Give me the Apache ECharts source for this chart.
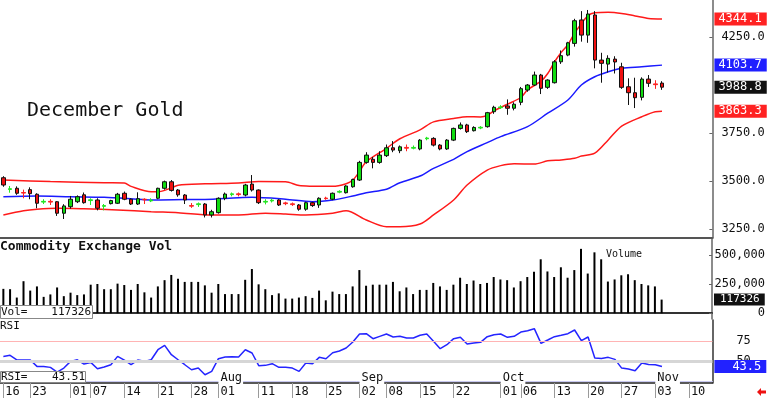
<!DOCTYPE html>
<html>
<head>
<meta charset="utf-8">
<script src="https://cdn.jsdelivr.net/npm/echarts@6/dist/echarts.min.js"></script>
<style>
  html, body { margin: 0; padding: 0; background: #fff; }
  #main { width: 768px; height: 399px; }
</style>
</head>
<body>
<div id="main"></div>
<script>
// trading days, Jun 16 .. Nov 13 (the last ones are still empty)
const dates = [
  '06-16','06-17','06-18','06-20','06-23','06-24','06-25','06-26','06-27','06-30',
  '07-01','07-02','07-03','07-07','07-08','07-09','07-10','07-11','07-14','07-15','07-16','07-17','07-18',
  '07-21','07-22','07-23','07-24','07-25','07-28','07-29','07-30','07-31',
  '08-01','08-04','08-05','08-06','08-07','08-08','08-11','08-12','08-13','08-14','08-15','08-18','08-19',
  '08-20','08-21','08-22','08-25','08-26','08-27','08-28','08-29',
  '09-02','09-03','09-04','09-05','09-08','09-09','09-10','09-11','09-12','09-15','09-16','09-17','09-18',
  '09-19','09-22','09-23','09-24','09-25','09-26','09-29','09-30',
  '10-01','10-02','10-03','10-06','10-07','10-08','10-09','10-10','10-13','10-14','10-15','10-16','10-17',
  '10-20','10-21','10-22','10-23','10-24','10-27','10-28','10-29','10-30','10-31',
  '11-03','11-04','11-05','11-06','11-07','11-10','11-11','11-12','11-13'
];
const dayTicks = ['06-16','06-23','07-01','07-07','07-14','07-21','07-28','08-01','08-11','08-18','08-25',
  '09-02','09-08','09-15','09-22','10-01','10-06','10-13','10-20','10-27','11-03','11-10'];
const monthNames = { '08-01': 'Aug', '09-02': 'Sep', '10-01': 'Oct', '11-03': 'Nov' };

const opens = [
  3517, 3456, 3462, 3440, 3455, 3431, 3390, 3394, 3392, 3332,
  3366, 3392, 3428, 3398, 3401, 3368, 3382, 3384, 3436, 3405,
  3380, 3405, 3396, 3410, 3462, 3496, 3453, 3427, 3372, 3377,
  3380, 3323, 3335, 3410, 3429, 3433, 3427, 3484, 3453, 3390,
  3396, 3401, 3386, 3381, 3375, 3353, 3387, 3375, 3411, 3405,
  3442, 3439, 3470, 3505, 3597, 3613, 3597, 3632, 3673, 3658,
  3675, 3671, 3667, 3720, 3722, 3687, 3667, 3713, 3774, 3792,
  3762, 3776, 3783, 3861, 3882, 3891, 3879, 3910, 3974, 4000,
  4052, 3988, 4012, 4121, 4156, 4217, 4339, 4260, 4365, 4130,
  4109, 4135, 4095, 3991, 3960, 3936, 4031, 4006, 4010
];
const closes = [
  3479, 3460, 3436, 3437, 3434, 3384, 3394, 3390, 3332, 3370,
  3405, 3418, 3387, 3402, 3358, 3372, 3398, 3431, 3405, 3380,
  3408, 3402, 3400, 3462, 3496, 3451, 3428, 3401, 3369, 3381,
  3323, 3340, 3410, 3432, 3433, 3429, 3479, 3453, 3387, 3394,
  3400, 3375, 3382, 3377, 3353, 3387, 3372, 3410, 3408, 3436,
  3446, 3474, 3508, 3597, 3635, 3597, 3635, 3673, 3661, 3678,
  3671, 3675, 3713, 3724, 3687, 3667, 3713, 3774, 3792, 3757,
  3779, 3780, 3856, 3884, 3886, 3879, 3900, 3981, 4000, 4052,
  3983, 4026, 4121, 4153, 4220, 4335, 4260, 4370, 4130, 4113,
  4139, 4120, 3988, 3960, 3934, 4031, 4009, 4002, 3988.8
];
const lows = [
  3470, 3439, 3428, 3410, 3405, 3358, 3380, 3375, 3318, 3302,
  3356, 3385, 3382, 3375, 3347, 3347, 3378, 3380, 3400, 3375,
  3375, 3380, 3390, 3405, 3455, 3445, 3418, 3380, 3360, 3365,
  3310, 3310, 3330, 3400, 3420, 3420, 3420, 3445, 3380, 3378,
  3388, 3370, 3374, 3370, 3345, 3345, 3365, 3360, 3402, 3400,
  3436, 3435, 3465, 3500, 3590, 3566, 3590, 3625, 3650, 3645,
  3655, 3665, 3660, 3712, 3680, 3660, 3662, 3708, 3768, 3750,
  3758, 3770, 3778, 3850, 3875, 3845, 3868, 3895, 3965, 3995,
  3953, 3980, 4008, 4110, 4150, 4200, 4226, 4220, 4087, 4012,
  4065, 4060, 3980, 3896, 3880, 3920, 3990, 3980, 3975
];
const highs = [
  3525, 3474, 3472, 3455, 3467, 3436, 3405, 3405, 3395, 3379,
  3422, 3425, 3440, 3410, 3410, 3380, 3402, 3438, 3445, 3410,
  3441, 3410, 3410, 3465, 3502, 3505, 3458, 3432, 3385, 3388,
  3385, 3350, 3415, 3440, 3440, 3440, 3485, 3531, 3456, 3405,
  3408, 3405, 3392, 3388, 3380, 3392, 3392, 3415, 3418, 3440,
  3452, 3478, 3512, 3605, 3650, 3625, 3655, 3690, 3708, 3685,
  3690, 3685, 3718, 3730, 3728, 3692, 3718, 3778, 3805, 3798,
  3785, 3786, 3860, 3892, 3895, 3925, 3910, 3990, 4005, 4070,
  4058, 4030, 4130, 4180, 4225, 4345, 4385, 4391, 4385, 4168,
  4155, 4150, 4116, 4035, 4038, 4040, 4052, 4025, 4020
];

// bollinger bands: [day index, price]
const upperBand = [
  [0, 3505], [7, 3497], [15, 3491], [18, 3490], [19, 3472], [22, 3444], [23, 3444], [25, 3464],
  [26, 3478], [30, 3485], [35, 3490], [38, 3497], [42, 3496], [44, 3476], [46, 3473], [49, 3472],
  [51, 3486], [52, 3505], [53, 3550], [54, 3600], [57, 3670], [59, 3720], [62, 3766], [64, 3808],
  [67, 3826], [69, 3835], [71, 3834], [72, 3842], [73, 3865], [75, 3900], [77, 3935], [78, 3975],
  [80, 4020], [81, 4060], [82, 4120], [83, 4170], [84, 4210], [85, 4270], [86, 4320], [87, 4362],
  [88, 4376], [90, 4379], [92, 4373], [94, 4360], [96, 4347], [98, 4344.1]
];
const midBand = [
  [0, 3418], [5, 3422], [10, 3418], [15, 3415], [20, 3405], [22, 3401], [27, 3403], [30, 3404],
  [35, 3413], [37, 3415], [42, 3405], [46, 3392], [49, 3401], [52, 3422], [54, 3439], [57, 3457],
  [59, 3491], [62, 3526], [64, 3566], [67, 3613], [69, 3653], [72, 3700], [74, 3731], [78, 3783],
  [81, 3853], [84, 3922], [86, 4000], [88, 4043], [90, 4069], [92, 4087], [95, 4095], [98, 4103.7]
];
const lowerBand = [
  [0, 3323], [3, 3345], [5, 3353], [8, 3358], [12, 3355], [17, 3349], [22, 3340], [26, 3335],
  [31, 3323], [35, 3323], [39, 3332], [42, 3328], [45, 3323], [49, 3332], [51, 3345], [54, 3297],
  [57, 3262], [59, 3262], [62, 3276], [64, 3323], [67, 3401], [69, 3479], [72, 3557], [74, 3580],
  [76, 3590], [79, 3588], [81, 3605], [83, 3610], [85, 3618], [86, 3630], [88, 3645], [90, 3714],
  [92, 3786], [95, 3835], [97, 3861], [98, 3863.3]
];

const volumes = [
  210000, 207000, 135000, 276000, 195000, 231000, 141000, 162000, 222000, 147000,
  177000, 156000, 162000, 246000, 252000, 207000, 207000, 255000, 243000, 201000,
  252000, 180000, 135000, 231000, 285000, 330000, 297000, 270000, 270000, 270000,
  240000, 177000, 252000, 165000, 165000, 165000, 288000, 381000, 249000, 207000,
  156000, 171000, 126000, 126000, 135000, 147000, 132000, 195000, 111000, 186000,
  165000, 165000, 231000, 372000, 237000, 246000, 246000, 246000, 270000, 189000,
  222000, 165000, 201000, 201000, 261000, 231000, 201000, 246000, 306000, 252000,
  282000, 252000, 261000, 312000, 291000, 285000, 222000, 276000, 312000, 357000,
  465000, 360000, 312000, 396000, 306000, 372000, 555000, 342000, 525000, 465000,
  273000, 291000, 327000, 336000, 285000, 252000, 240000, 231000, 117326
];
const rsiValues = [
  56.2, 57.5, 52.0, 51.6, 51.6, 43.7, 43.7, 42.5, 36.6, 41.6,
  50.0, 52.0, 46.6, 48.7, 40.8, 42.9, 45.8, 56.2, 51.6, 45.8,
  51.6, 50.0, 52.0, 64.5, 70.0, 58.3, 52.0, 45.8, 39.5, 41.6,
  33.3, 37.5, 53.3, 55.4, 55.8, 55.4, 64.5, 60.4, 44.6, 45.0,
  47.1, 42.5, 42.5, 41.6, 37.5, 47.9, 47.1, 55.0, 53.3, 60.8,
  62.9, 66.6, 74.1, 84.1, 84.5, 78.3, 81.2, 84.1, 80.4, 81.2,
  79.1, 79.1, 82.5, 84.1, 75.0, 65.8, 70.8, 78.3, 80.0, 71.6,
  72.9, 73.7, 80.8, 83.3, 84.1, 80.0, 81.2, 86.6, 88.3, 90.8,
  72.5, 76.6, 80.8, 82.5, 84.5, 89.1, 75.8, 80.4, 54.1, 53.7,
  55.0, 52.5, 41.6, 40.4, 38.3, 47.9, 46.2, 45.8, 43.51
];

const priceTicks = [3250, 3500, 3750, 4250];
const volTicks = [0, 250000, 500000];
const rsiTicks = [50, 75];

const MONO = '"DejaVu Sans Mono", "Liberation Mono", monospace';
const GREEN = '#10dc10';
const RED = '#f01010';
const last = arr => arr[arr.length - 1];
const lastVal = arr => last(arr)[1];

let chart = echarts.init(document.getElementById('main'));

let candles = opens.map((o, i) => {
  const c = closes[i];
  const item = { value: [o, c, lows[i], highs[i]] };
  if (Math.abs(o - c) < 6) {
    const col = c >= o ? '#22e622' : '#ff2222';
    item.itemStyle = { borderColor: col, borderColor0: col };
  }
  return item;
});

// value box on the right edge, like the terminal's last-price tags
function boxLine (value, bg, text, size, padLeft) {
  return {
    yAxis: value,
    lineStyle: { width: 0, color: 'rgba(0,0,0,0)', opacity: 1 },
    label: {
      show: true, position: 'end', distance: 2, opacity: 1,
      formatter: text,
      backgroundColor: bg, color: '#fff',
      fontFamily: MONO, fontSize: size || 12,
      padding: [1, 5, 0, padLeft || 4]
    }
  };
}

const showDay = (i, v) => dayTicks.indexOf(v) >= 0;
const showMonth = (i, v) => monthNames[v] !== undefined;

function baseX (grid, lineColor) {
  return {
    type: 'category', gridIndex: grid, data: dates, boundaryGap: true,
    axisLine: { lineStyle: { color: lineColor, width: 2 } },
    axisTick: { show: false }, axisLabel: { show: false }, splitLine: { show: false }
  };
}

let options = {
  animation: false,
  backgroundColor: '#fff',
  grid: [
    { left: -4.2, right: 55.6, top: 0, height: 238 },
    { left: -4.2, right: 55.6, top: 239, height: 80 },
    { left: -4.2, right: 55.6, top: 320, height: 63 }
  ],
  xAxis: [
    baseX(0, '#555'),
    baseX(1, '#333'),
    {
      type: 'category', gridIndex: 2, data: dates, boundaryGap: true, position: 'bottom',
      axisLine: { lineStyle: { color: '#222', width: 1.5 } },
      axisTick: { show: true, interval: showDay, alignWithLabel: true, length: 15, lineStyle: { color: '#9a9a9a' } },
      axisLabel: {
        interval: showDay, formatter: v => v.slice(3), align: 'left', padding: [0, 0, 0, 2],
        margin: 3, fontFamily: MONO, fontSize: 12, color: '#111'
      },
      splitLine: { show: false }
    },
    {
      type: 'category', gridIndex: 2, data: dates, boundaryGap: true, position: 'bottom', offset: -2,
      axisLine: { lineStyle: { color: '#c8c8f0', width: 1 } },
      axisTick: { show: false },
      axisLabel: {
        inside: true, interval: showMonth, formatter: v => monthNames[v] || '',
        align: 'left', verticalAlign: 'middle', margin: 3, padding: [0, 1, 0, 2],
        backgroundColor: '#fff', fontFamily: MONO, fontSize: 12, color: '#111'
      },
      splitLine: { show: false }
    }
  ],
  yAxis: [
    {
      type: 'value', gridIndex: 0, position: 'right', min: 3203, max: 4443,
      axisLine: { show: true, lineStyle: { color: '#666', width: 1.5 } },
      axisTick: { show: true, inside: true, length: 3, customValues: priceTicks, lineStyle: { color: '#666' } },
      axisLabel: { customValues: priceTicks, formatter: v => v.toFixed(1), margin: 9, fontFamily: MONO, fontSize: 12, color: '#111' },
      splitLine: { show: false }
    },
    {
      type: 'value', gridIndex: 1, position: 'right', min: -50000, max: 640000,
      axisLine: { show: true, lineStyle: { color: '#666', width: 1.5 } },
      axisTick: { show: true, inside: true, length: 3, customValues: volTicks, lineStyle: { color: '#666' } },
      axisLabel: { customValues: volTicks, align: 'right', margin: 53, fontFamily: MONO, fontSize: 12, color: '#111' },
      splitLine: { show: false }
    },
    {
      type: 'value', gridIndex: 2, position: 'right', min: 23, max: 101.6,
      axisLine: { show: true, lineStyle: { color: '#333', width: 1.5 } },
      axisTick: { show: true, inside: true, length: 3, customValues: rsiTicks, lineStyle: { color: '#666' } },
      axisLabel: { customValues: rsiTicks, margin: 24, fontFamily: MONO, fontSize: 12, color: '#111' },
      splitLine: { show: false }
    }
  ],
  series: [
    {
      name: 'upper', type: 'line', xAxisIndex: 0, yAxisIndex: 0, data: upperBand,
      showSymbol: false, smooth: 0.3, lineStyle: { color: '#ff1a1a', width: 1.5 }, z: 1,
      markLine: { silent: true, symbol: ['none', 'none'], data: [boxLine(lastVal(upperBand), '#ff2222', p => p.value.toFixed(1))] }
    },
    {
      name: 'mid', type: 'line', xAxisIndex: 0, yAxisIndex: 0, data: midBand,
      showSymbol: false, smooth: 0.3, lineStyle: { color: '#1a1aff', width: 1.5 }, z: 1,
      markLine: { silent: true, symbol: ['none', 'none'], data: [boxLine(lastVal(midBand), '#2020ff', p => p.value.toFixed(1))] }
    },
    {
      name: 'lower', type: 'line', xAxisIndex: 0, yAxisIndex: 0, data: lowerBand,
      showSymbol: false, smooth: 0.3, lineStyle: { color: '#ff1a1a', width: 1.5 }, z: 1,
      markLine: { silent: true, symbol: ['none', 'none'], data: [boxLine(lastVal(lowerBand), '#ff2222', p => p.value.toFixed(1))] }
    },
    {
      name: 'December Gold', type: 'candlestick', xAxisIndex: 0, yAxisIndex: 0, data: candles,
      barWidth: 4, z: 3,
      itemStyle: { color: GREEN, color0: RED, borderColor: '#111', borderColor0: '#111', borderWidth: 1 },
      markLine: { silent: true, symbol: ['none', 'none'], data: [boxLine(last(closes), '#111', p => p.value.toFixed(1))] }
    },
    {
      name: 'Volume', type: 'bar', xAxisIndex: 1, yAxisIndex: 1, data: volumes,
      barWidth: 2, itemStyle: { color: '#000' },
      markLine: { silent: true, symbol: ['none', 'none'], data: [boxLine(last(volumes), '#111', p => String(p.value), 11, 6)] }
    },
    {
      name: 'rsiGuides', type: 'line', xAxisIndex: 2, yAxisIndex: 2, data: [], z: 1,
      markLine: {
        silent: true, symbol: ['none', 'none'], label: { show: false },
        data: [
          { yAxis: 75, lineStyle: { color: '#ffb4b4', width: 1, type: 'solid' } },
          { yAxis: 50, lineStyle: { color: '#d6d6d6', width: 3, type: 'solid' } }
        ]
      }
    },
    {
      name: 'RSI', type: 'line', xAxisIndex: 2, yAxisIndex: 2, data: rsiValues, z: 3,
      showSymbol: false, lineStyle: { color: '#2424ff', width: 1.5 },
      markLine: {
        silent: true, symbol: ['none', 'none'],
        data: [boxLine(last(rsiValues), '#2222ff', p => p.value.toFixed(1), 12, 18)]
      }
    }
  ],
  graphic: [
    { type: 'text', left: 27, top: 101, style: { text: 'December Gold', font: '20px ' + MONO, fill: '#111' } },
    { type: 'text', left: 0, top: 240, style: { text: 'Commodity Exchange Vol', font: 'bold 13px ' + MONO, fill: '#111' } },
    { type: 'text', left: 606, top: 249, style: { text: 'Volume', font: '10px ' + MONO, fill: '#111' } },
    { type: 'text', left: 0, top: 321, style: { text: 'RSI', font: '11px ' + MONO, fill: '#111' } },
    { type: 'rect', z: 100, shape: { x: 0.5, y: 305.5, width: 92, height: 13 }, style: { fill: '#fff', stroke: '#888', lineWidth: 1 } },
    { type: 'text', z: 101, x: 1, y: 312, style: { text: 'Vol=', font: '11px ' + MONO, fill: '#111', verticalAlign: 'middle' } },
    { type: 'text', z: 101, x: 91, y: 312, style: { text: String(last(volumes)), font: '11px ' + MONO, fill: '#111', align: 'right', verticalAlign: 'middle' } },
    { type: 'rect', z: 100, shape: { x: 0.5, y: 371.5, width: 85, height: 11 }, style: { fill: '#fff', stroke: '#888', lineWidth: 1 } },
    { type: 'text', z: 101, x: 1, y: 377, style: { text: 'RSI=', font: '11px ' + MONO, fill: '#111', verticalAlign: 'middle' } },
    { type: 'text', z: 101, x: 85, y: 377, style: { text: last(rsiValues).toFixed(2), font: '11px ' + MONO, fill: '#111', align: 'right', verticalAlign: 'middle' } },
    {
      type: 'polygon', z: 100,
      shape: { points: [[757, 392], [761, 388], [761, 390.5], [766, 390.5], [766, 393.5], [761, 393.5], [761, 396]] },
      style: { fill: '#ee1111' }
    }
  ]
};
chart.setOption(options);
</script>
</body>
</html>
